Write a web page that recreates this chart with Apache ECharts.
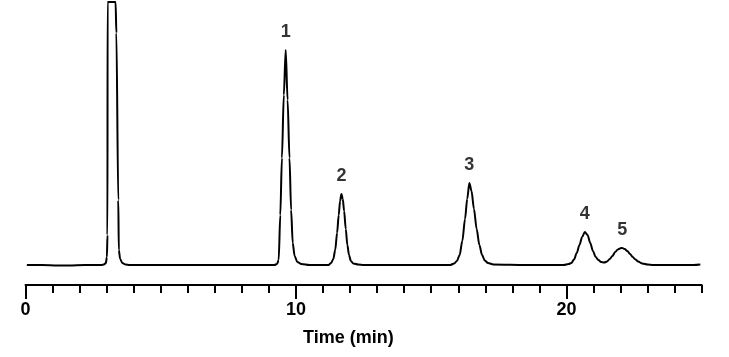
<!DOCTYPE html>
<html>
<head>
<meta charset="utf-8">
<script src="https://cdn.jsdelivr.net/npm/echarts@6/dist/echarts.min.js"></script>
<style>
html,body{margin:0;padding:0;background:#fff;}
#chart{width:729px;height:357px;}
</style>
</head>
<body>
<div id="chart"></div>
<script>
// Retention time (min)
var timeMin = [
  0.05, 0.6, 1.2, 1.6, 2.2, 2.8, 2.9, 2.97, 3.01, 3.03, 3.035, 3.33, 3.36, 3.43, 3.45, 3.5, 3.58, 3.7, 3.85,
  4.5, 6.0, 7.5, 9.0, 9.2, 9.3, 9.36, 9.42, 9.48, 9.55, 9.62, 9.69, 9.76, 9.82, 9.88, 9.95, 10.05, 10.2, 10.5,
  11.0, 11.2, 11.3, 11.38, 11.45, 11.52, 11.58, 11.63, 11.68, 11.73, 11.78, 11.84, 11.9, 11.96, 12.03, 12.12, 12.3, 12.5,
  13.5, 15.0, 15.7, 15.85, 15.95, 16.05, 16.15, 16.25, 16.33, 16.41, 16.49, 16.58, 16.68, 16.78, 16.88, 16.98, 17.1, 17.3,
  18.5, 19.9, 20.08, 20.18, 20.28, 20.38, 20.48, 20.58, 20.68, 20.78, 20.88, 20.98, 21.08, 21.18, 21.28, 21.4,
  21.5, 21.6, 21.7, 21.8, 21.9, 22.0, 22.06, 22.15, 22.25, 22.35, 22.45, 22.55, 22.65, 22.8, 23.0, 23.2, 24.0, 24.7, 24.95
];
// Detector signal (arbitrary units, baseline = 0)
var signal = [
  0, 0, -0.5, -0.5, 0, 0, 0.5, 2, 8, 30, 263, 263, 232, 65, 15, 6, 2, 0.5, 0,
  0, 0, 0, 0, 0, 1, 5, 50, 107, 170, 215, 165, 107, 55, 22, 9, 3, 1, 0,
  0, 0, 2, 6, 15, 32, 50, 64, 71, 66, 54, 36, 20, 10, 4, 1.5, 0.5, 0,
  0, 0, 0, 1.5, 4, 10, 24, 46, 66, 82, 74, 56, 36, 20, 10, 4.5, 2, 0.5,
  0, 0, 1, 2, 5.5, 12, 20, 28, 33, 30, 22, 14, 8, 5, 3, 2.5,
  3.5, 6, 9, 13, 15.5, 16.8, 17, 16, 14, 11, 8, 5.5, 3.5, 1.5, 0.5, 0, 0, 0, 0.5
];
// Peak identifiers and their apex positions
var peakNames = ['1', '2', '3', '4', '5'];
var peakTimes = [9.62, 11.68, 16.41, 20.68, 22.06];
var peakHeights = [215, 71, 82, 33, 17];
// Axis labels
var majorTicks = [0, 10, 20];
var axisTitle = 'Time (min)';

var traceData = timeMin.map(function (t, i) { return [t, signal[i]]; });
var peakData = peakTimes.map(function (t, i) { return { value: [t, peakHeights[i]], name: peakNames[i] }; });

var fontFam = '"Liberation Sans", Arial, sans-serif';
var chart = echarts.init(document.getElementById('chart'), null, { renderer: 'canvas' });
chart.setOption({
  animation: false,
  backgroundColor: '#fff',
  grid: { left: 25.5, right: 27.3, top: 0, bottom: 72 },
  xAxis: [
    {
      type: 'value', min: 0, max: 25, interval: 1, position: 'bottom',
      axisLine: { show: true, onZero: false, lineStyle: { color: '#000', width: 2 } },
      axisTick: { show: true, length: 8, lineStyle: { color: '#000', width: 2 } },
      axisLabel: { show: false },
      splitLine: { show: false }
    },
    {
      type: 'value', min: 0, max: 25, position: 'bottom',
      axisLine: { show: false, onZero: false },
      axisTick: { show: true, length: 14, customValues: majorTicks, lineStyle: { color: '#000', width: 2 } },
      axisLabel: { show: true, customValues: majorTicks, margin: 16, color: '#000', fontSize: 18, fontWeight: 'bold', fontFamily: fontFam },
      splitLine: { show: false }
    }
  ],
  yAxis: { type: 'value', min: -20, max: 265, show: false, splitLine: { show: false } },
  graphic: [{
    type: 'text', left: 303, top: 329,
    style: { text: axisTitle, fill: '#000', font: 'bold 18px ' + fontFam }
  }],
  series: [
    {
      type: 'line', xAxisIndex: 0, data: traceData, showSymbol: false, smooth: 0.3, smoothMonotone: 'x',
      lineStyle: { color: '#000', width: 2 }, clip: true
    },
    {
      type: 'scatter', xAxisIndex: 0, data: peakData, symbolSize: 0,
      label: { show: true, position: 'top', distance: 9, formatter: '{b}', color: '#000', fontSize: 18, fontWeight: 'bold', fontFamily: fontFam }
    }
  ]
});
</script>
</body>
</html>
